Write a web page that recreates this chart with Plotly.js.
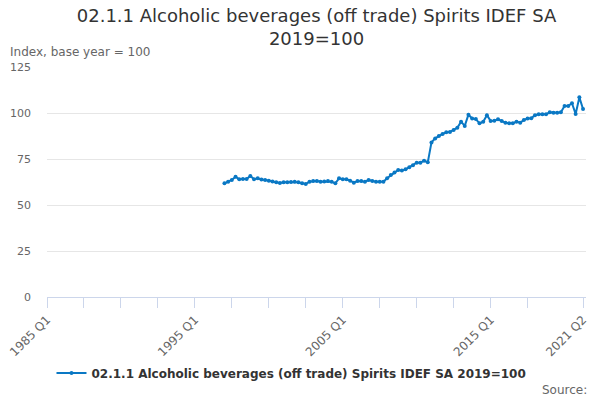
<!DOCTYPE html>
<html>
<head>
<meta charset="utf-8">
<script src="https://cdn.plot.ly/plotly-3.0.1.min.js"></script>
<style>
  html, body { margin: 0; padding: 0; background: #fff; }
  #plot { width: 600px; height: 400px; }
</style>
</head>
<body>
<div id="plot"></div>
<script>
// quarters on the axis, 1985 Q1 .. 2021 Q2
const startYear = 1985;
const quarterCount = 146;
const quarters = [];
for (let i = 0; i < quarterCount; i++) {
  quarters.push((startYear + Math.floor(i / 4)) + ' Q' + (i % 4 + 1));
}

// series starts at 1997 Q1
const seriesStart = '1997 Q1';
const spiritsIndex = [
  61.8, 62.7, 63.6, 65.4, 64.0, 64.1, 64.1, 65.8, 64.0, 64.5,
  63.8, 63.6, 63.2, 62.8, 62.3, 62.0, 62.3, 62.3, 62.5, 62.7,
  62.3, 61.8, 61.4, 62.7, 63.0, 63.0, 62.7, 62.8, 63.0, 62.7,
  61.8, 64.5, 64.0, 64.0, 63.2, 62.1, 63.0, 63.0, 62.7, 63.6,
  63.0, 62.7, 62.7, 62.7, 64.5, 66.3, 67.6, 69.0, 68.7, 69.4,
  70.5, 71.6, 73.0, 73.0, 74.1, 73.2, 84.0, 86.2, 87.5, 88.6,
  89.5, 89.7, 90.8, 92.0, 95.3, 93.0, 99.1, 97.0, 96.7, 94.4,
  95.3, 98.8, 95.7, 95.8, 96.6, 95.7, 94.7, 94.4, 94.4, 95.3,
  94.7, 96.2, 97.0, 97.1, 98.8, 99.3, 99.3, 99.3, 100.4, 100.2,
  100.2, 100.4, 103.8, 103.8, 105.3, 99.5, 108.5, 102.2
];

const yTicks = [0, 25, 50, 75, 100, 125];
const seriesName = '02.1.1 Alcoholic beverages (off trade) Spirits IDEF SA 2019=100';

const firstIdx = quarters.indexOf(seriesStart);
const seriesX = quarters.slice(firstIdx, firstIdx + spiritsIndex.length);

// tick marks every 10 quarters, labels every 10 years plus the last quarter
const tickIdx = [];
for (let i = 0; i <= 130; i += 10) tickIdx.push(i);
tickIdx.push(quarterCount - 1);
const tickvals = tickIdx.map(i => quarters[i]);
const ticktext = tickIdx.map(i => (i % 40 === 0 || i === quarterCount - 1) ? quarters[i] : '');

const font = 'DejaVu Sans, sans-serif';
const blue = '#0a78c4';

const data = [{
  x: seriesX,
  y: spiritsIndex,
  name: seriesName,
  type: 'scatter',
  mode: 'lines+markers',
  line: {color: blue, width: 2},
  marker: {color: blue, size: 4},
}];

const layout = {
  width: 600,
  height: 400,
  margin: {l: 47, r: 14, t: 67, b: 103},
  paper_bgcolor: '#fff',
  plot_bgcolor: '#fff',
  font: {family: font, color: '#666'},
  title: {
    text: '02.1.1 Alcoholic beverages (off trade) Spirits IDEF SA<br>2019=100',
    font: {family: font, size: 18, color: '#333'},
    xref: 'paper', x: 0.5, xanchor: 'center',
    yref: 'container', y: 0.945, yanchor: 'middle',
  },
  xaxis: {
    type: 'category',
    categoryorder: 'array',
    categoryarray: quarters,
    range: [0, 145.8],
    tickmode: 'array',
    tickvals: tickvals,
    ticktext: ticktext,
    tickangle: -45,
    ticks: 'outside',
    ticklen: 10,
    tickcolor: '#ccd6eb',
    tickfont: {family: font, size: 12, color: '#666'},
    showline: true,
    linecolor: '#ccd6eb',
    linewidth: 1,
    showgrid: false,
    zeroline: false,
    fixedrange: true,
  },
  yaxis: {
    range: [0, 125],
    tickmode: 'array',
    tickvals: yTicks,
    tickfont: {family: font, size: 11, color: '#666'},
    ticklabelstandoff: 15,
    gridcolor: '#e6e6e6',
    gridwidth: 1,
    zeroline: false,
    showline: false,
    fixedrange: true,
  },
  showlegend: true,
  legend: {
    orientation: 'h',
    x: 0.4536, xanchor: 'center',
    y: -0.33, yanchor: 'middle',
    font: {family: font, size: 12, color: '#333', weight: 'bold'},
  },
  annotations: [
    {
      text: 'Index, base year = 100',
      xref: 'paper', yref: 'paper',
      x: -0.072, y: 1.025, xanchor: 'left', yanchor: 'bottom',
      showarrow: false,
      font: {family: font, size: 12, color: '#666'},
    },
    {
      text: 'Source:',
      xref: 'paper', yref: 'paper',
      x: 1.006, y: -0.404, xanchor: 'right', yanchor: 'middle',
      showarrow: false,
      font: {family: font, size: 12, color: '#666'},
    },
  ],
};

Plotly.newPlot('plot', data, layout, {displayModeBar: false, staticPlot: true});
</script>
</body>
</html>
